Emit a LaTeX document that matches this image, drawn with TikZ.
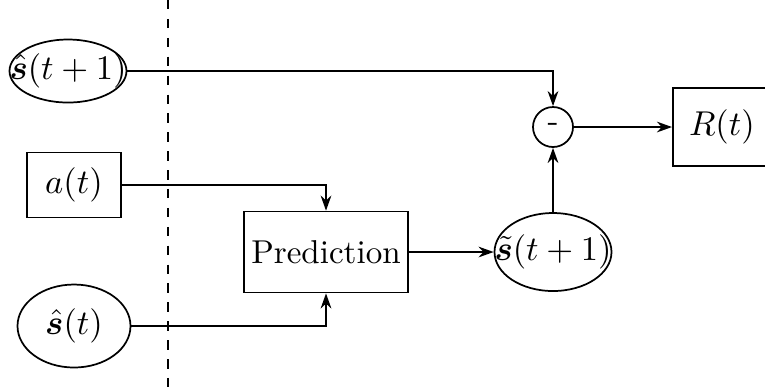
\documentclass[tikz,border=0pt]{standalone}
\usepackage{amsmath}
\usepackage{bm}
\usetikzlibrary{shapes.geometric,arrows.meta}
\newcommand{\ctext}[1]{\makebox[0pt]{\raisebox{-2.6pt}[0pt][0pt]{#1}}}
\tikzset{
  ell/.style={draw, ellipse, inner sep=0pt, line width=0.55pt, font=\fontsize{10.5pt}{12pt}\selectfont},
  box/.style={draw, rectangle, inner sep=0pt, line width=0.55pt, font=\fontsize{10.5pt}{12pt}\selectfont},
  conn/.style={line width=0.55pt, -{Stealth[length=4.8pt,width=3.4pt]}},
}
\begin{document}
\begin{tikzpicture}[x=0.3175pt, y=-0.3175pt]
\useasboundingbox (0,0) rectangle (765,387);
\draw[dashed, line width=0.55pt] (168,0) -- (168,387);
\node[ell, minimum width=117*0.3175pt, minimum height=63*0.3175pt] (shat1) at (68,71) {\ctext{$\hat{\bm{s}}(t+1)$}};
\node[box, minimum width=94*0.3175pt, minimum height=65*0.3175pt] (a) at (74,185) {$a(t)$};
\node[ell, minimum width=113*0.3175pt, minimum height=83*0.3175pt] (shat) at (74,326) {\ctext{$\hat{\bm{s}}(t)$}};
\node[box, minimum width=164*0.3175pt, minimum height=81*0.3175pt] (pred) at (326,252) {Prediction};
\node[ell, minimum width=117*0.3175pt, minimum height=78*0.3175pt] (stil) at (553,252) {\ctext{$\tilde{\bm{s}}(t+1)$}};
\node[draw, circle, inner sep=0pt, font=\fontsize{10.5pt}{12pt}\selectfont, minimum size=40*0.3175pt, line width=0.55pt] (minus) at (553,127) {-};
\node[box, minimum width=98*0.3175pt, minimum height=78*0.3175pt, anchor=west] (R) at (672,127) {$R(t)$};
\draw[conn] (shat1.east) -| (minus.north);
\draw[conn] (a.east) -| (pred.north);
\draw[conn] (shat.east) -| (pred.south);
\draw[conn] (pred.east) -- (stil.west);
\draw[conn] (stil.north) -- (minus.south);
\draw[conn] (minus.east) -- (R.west);
\end{tikzpicture}
\end{document}
